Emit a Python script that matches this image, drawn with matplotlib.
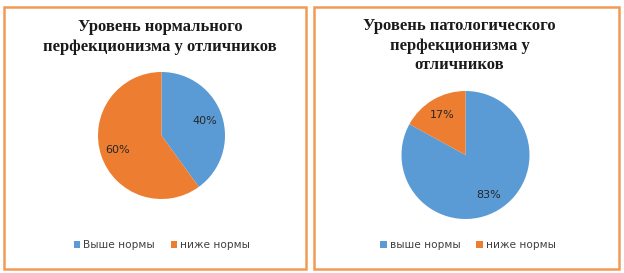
import matplotlib.pyplot as plt
from matplotlib.patches import Rectangle, Patch

# data
titles = ["Уровень нормального\nперфекционизма у отличников",
          "Уровень патологического\nперфекционизма у\nотличников"]
labels_left = ["Выше нормы", "ниже нормы"]
labels_right = ["выше нормы", "ниже нормы"]
values_left = [40, 60]
values_right = [83, 17]

colors = ["#5B9BD5", "#ED7D31"]
border = "#F19A55"

W, H = 624, 273
fig = plt.figure(figsize=(W / 100, H / 100), dpi=100)


def px_axes(cx, cy, r):
    # cx, cy in pixels from top-left
    return fig.add_axes([(cx - r) / W, (H - cy - r) / H, 2 * r / W, 2 * r / H])


# panel borders
for x0, x1 in [(4, 306), (314, 619)]:
    fig.patches.append(Rectangle((x0 / W, 4 / H), (x1 - x0) / W, (266 - 4) / H,
                                 transform=fig.transFigure, fill=False,
                                 edgecolor=border, linewidth=1.8))

panels = [
    (values_left, labels_left, (161.5, 135.5, 63.5), 162),
    (values_right, labels_right, (465.5, 155, 64), 468),
]

for vals, labs, (cx, cy, r), lx in panels:
    ax = px_axes(cx, cy, r)
    ax.pie(vals, colors=colors, startangle=90, counterclock=False,
           autopct="%d%%", pctdistance=0.72, radius=1,
           textprops=dict(fontsize=8, color="#262626", family="DejaVu Sans"),
           wedgeprops=dict(linewidth=0))
    ax.set_xlim(-1, 1)
    ax.set_ylim(-1, 1)
    ax.set_aspect("equal")
    ax.axis("off")

    handles = [Patch(facecolor=c, edgecolor="none") for c in colors]
    fig.legend(handles, labs, loc="center", ncol=2, frameon=False,
               bbox_to_anchor=(lx / W, 28 / H),
               handlelength=0.6, handleheight=0.6, handletextpad=0.3,
               columnspacing=1.5, prop=dict(family="DejaVu Sans", size=7.6),
               labelcolor="#404040")

fig.text(160 / W, 1 - 19 / H, titles[0], ha="center", va="top",
         family="Liberation Serif", weight="bold", fontsize=12,
         linespacing=1.3, color="#1a1a1a")
fig.text(459.5 / W, 1 - 18 / H, titles[1], ha="center", va="top",
         family="Liberation Serif", weight="bold", fontsize=12,
         linespacing=1.3, color="#1a1a1a")

fig.savefig("out.png", dpi=100, facecolor="white")
